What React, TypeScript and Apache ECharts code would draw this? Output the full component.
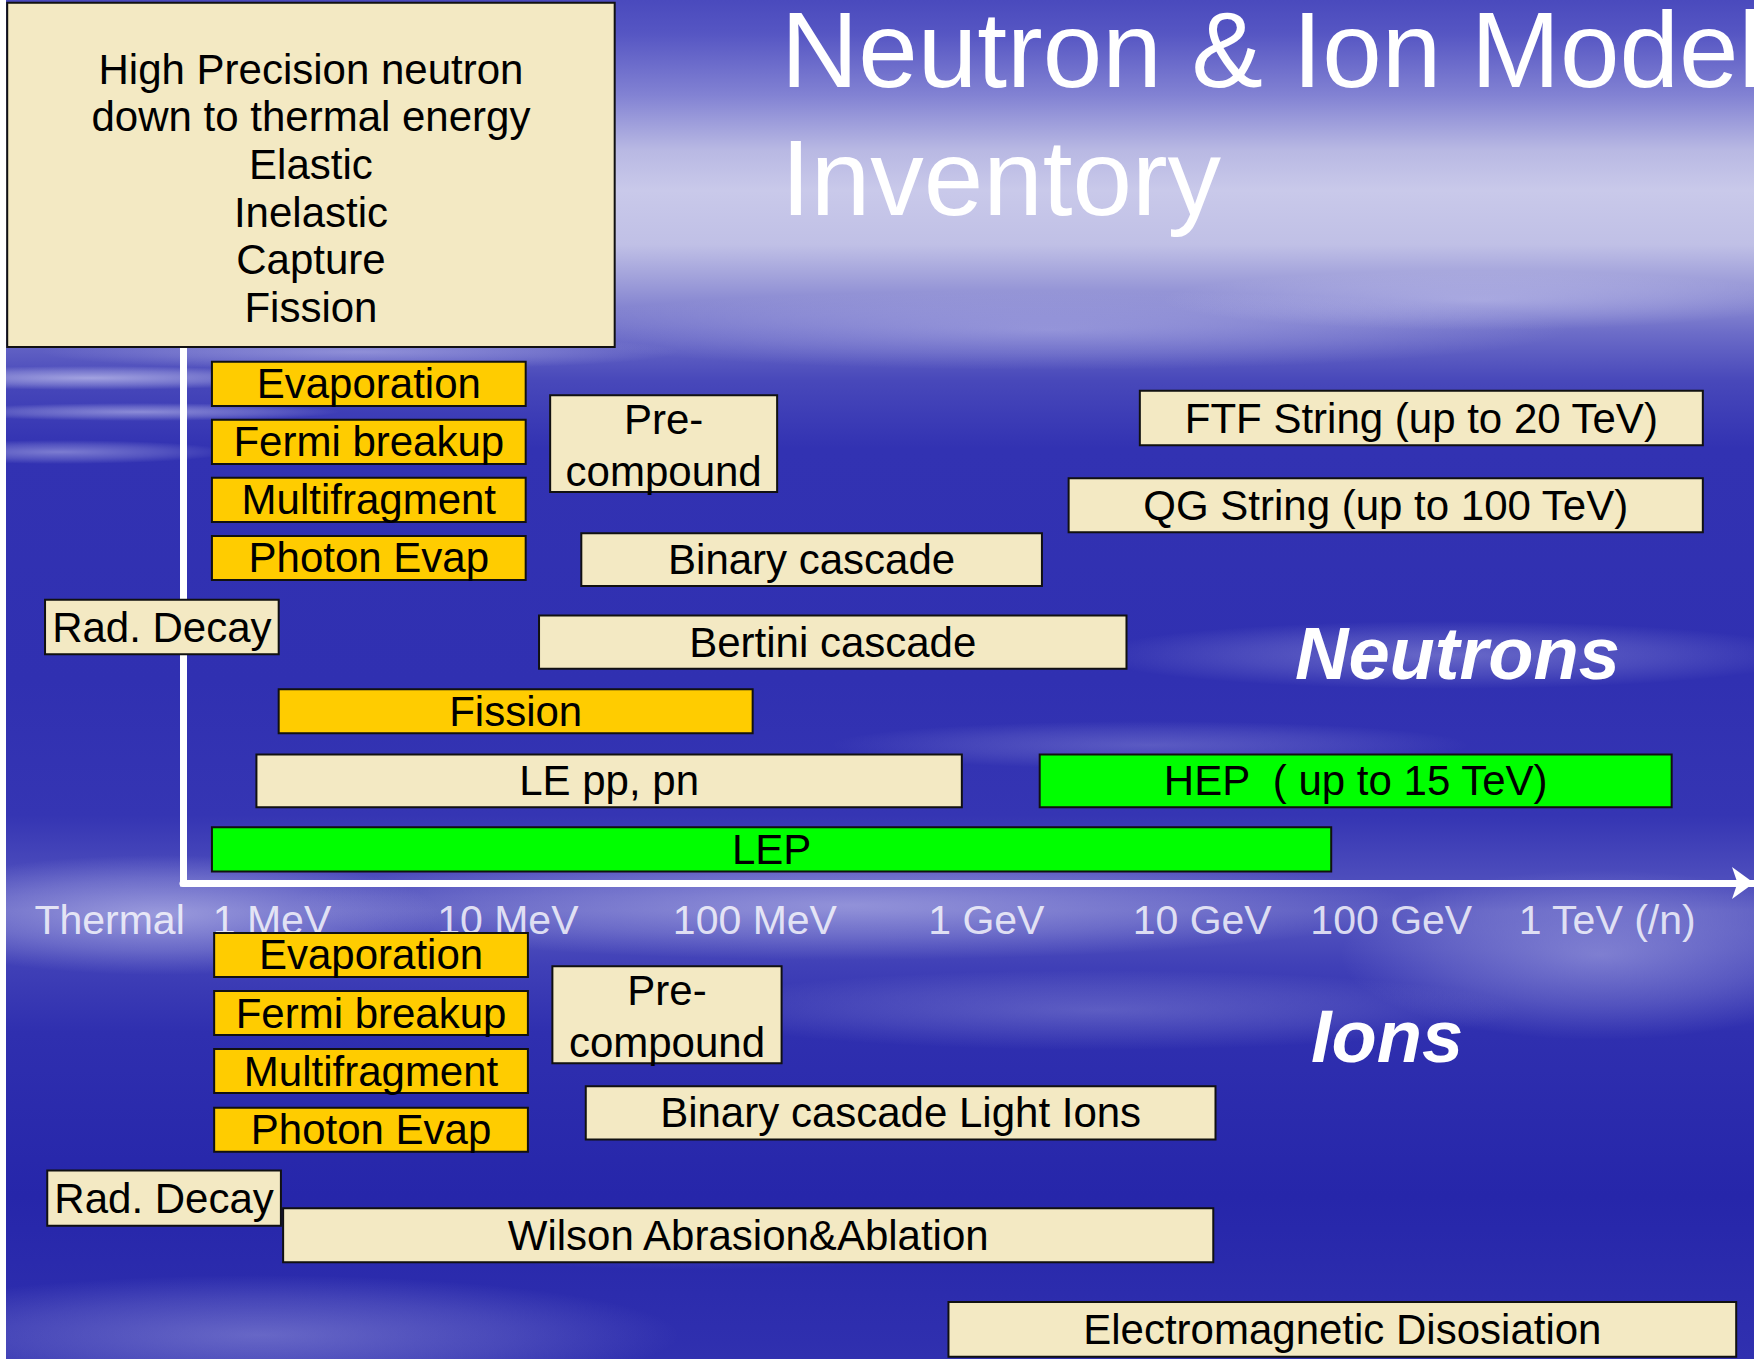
import React, { useEffect, useRef } from "react";
import * as echarts from "echarts";

// Energy axis in decades: log10(E / eV) on a schematic slide scale
const energyTickLabels = ["Thermal", "1 MeV", "10 MeV", "100 MeV", "1 GeV", "10 GeV", "100 GeV", "1 TeV (/n)"];
const energyTickPositions = [5.27, 6.0, 7.06, 8.17, 9.21, 10.18, 11.03, 12.0];
const tickLabelRow = 9.24;

// High precision neutron box
const hpModels = ["High Precision neutron\ndown to thermal energy\nElastic\nInelastic\nCapture\nFission"];
const hpFrom = [4.81];
const hpTo = [7.54];
const hpRow = [-3.6];
const hpSpan = [5.93];
const hpKinds = ["hp"];

// Neutron models
const neutronModels = [
  "Evaporation", "Fermi breakup", "Multifragment", "Photon Evap", "Pre-\ncompound",
  "FTF String (up to 20 TeV)", "QG String (up to 100 TeV)", "Binary cascade", "Rad. Decay",
  "Bertini cascade", "Fission", "LE pp, pn", "HEP  ( up to 15 TeV)", "LEP",
];
const neutronFrom = [5.73, 5.73, 5.73, 5.73, 7.25, 9.9, 9.58, 7.39, 4.98, 7.2, 6.03, 5.93, 9.45, 5.73];
const neutronTo = [7.14, 7.14, 7.14, 7.14, 8.27, 12.43, 12.43, 9.46, 6.03, 9.84, 8.16, 9.1, 12.29, 10.76];
const neutronRow = [0, 1, 2, 3, 1.03, 0.59, 2.09, 3.03, 4.19, 4.45, 5.64, 6.84, 6.84, 8.02];
const neutronSpan = [0.76, 0.76, 0.76, 0.76, 1.67, 0.94, 0.93, 0.91, 0.94, 0.92, 0.76, 0.91, 0.91, 0.76];
const neutronKinds = ["deex", "deex", "deex", "deex", "model", "model", "model", "model", "model", "model", "deex", "model", "param", "param"];

// Ion models
const ionModels = [
  "Evaporation", "Fermi breakup", "Multifragment", "Photon Evap", "Pre-\ncompound",
  "Binary cascade Light Ions", "Rad. Decay", "Wilson Abrasion&Ablation", "Electromagnetic Disosiation",
];
const ionFrom = [5.74, 5.74, 5.74, 5.74, 7.26, 7.41, 4.99, 6.05, 9.04];
const ionTo = [7.15, 7.15, 7.15, 7.15, 8.29, 10.24, 6.04, 10.23, 12.58];
const ionRow = [9.84, 10.84, 11.84, 12.85, 10.87, 12.56, 14.03, 14.67, 16.29];
const ionSpan = [0.76, 0.76, 0.76, 0.76, 1.67, 0.92, 0.95, 0.93, 0.94];
const ionKinds = ["deex", "deex", "deex", "deex", "model", "model", "model", "model", "model"];

const FONT = '"Liberation Sans", Arial, Helvetica, sans-serif';
const kindFill: Record<string, string> = {
  hp: "#F3E9C3",
  deex: "#FFCC00",
  model: "#F3E9C3",
  param: "#00FF00",
};

function makeBoxSeries(name: string, labels: string[], from: number[], to: number[], rows: number[], spans: number[], kinds: string[]) {
  return {
    type: "custom",
    name,
    clip: false,
    z: 3,
    silent: true,
    data: labels.map((_, i) => [from[i], to[i], rows[i], spans[i]]),
    encode: { x: [0, 1], y: 2 },
    renderItem: (params: any, api: any) => {
      const i = params.dataIndex;
      const p0 = api.coord([api.value(0), api.value(2)]);
      const p1 = api.coord([api.value(1), api.value(2)]);
      const h = api.size([0, api.value(3)])[1];
      const kind = kinds[i];
      const text = labels[i];
      const lines = text.split("\n").length;
      let lineHeight = 46;
      let dy = 0;
      if (kind === "hp") {
        lineHeight = 47.7;
        dy = 13.5;
      } else if (lines > 1) {
        lineHeight = 52;
        dy = 2;
      }
      return {
        type: "group",
        children: [
          {
            type: "rect",
            shape: { x: p0[0], y: p0[1] - h / 2, width: p1[0] - p0[0], height: h },
            style: { fill: kindFill[kind], stroke: "#111", lineWidth: 2 },
          },
          {
            type: "text",
            x: (p0[0] + p1[0]) / 2,
            y: p0[1] + dy,
            style: {
              text,
              fill: "#000",
              fontSize: 42,
              fontFamily: FONT,
              align: "center",
              verticalAlign: "middle",
              lineHeight,
            },
          },
        ],
      };
    },
  };
}

function radial(alpha: number) {
  return {
    type: "radial",
    x: 0.5,
    y: 0.5,
    r: 0.5,
    colorStops: [
      { offset: 0, color: `rgba(235,235,255,${alpha})` },
      { offset: 0.6, color: `rgba(235,235,255,${alpha * 0.45})` },
      { offset: 1, color: "rgba(235,235,255,0)" },
    ],
  };
}

const clouds: number[][] = [
  [90, 378, 220, 12, 0.55],
  [140, 412, 200, 9, 0.45],
  [60, 452, 170, 12, 0.4],
  [360, 352, 320, 18, 0.35],
  [1050, 330, 520, 40, 0.3],
  [1480, 300, 320, 30, 0.3],
  [1450, 655, 360, 34, 0.3],
  [1150, 745, 320, 24, 0.22],
  [850, 905, 560, 55, 0.4],
  [160, 915, 280, 60, 0.45],
  [1600, 955, 260, 85, 0.35],
  [1100, 1010, 420, 40, 0.22],
  [260, 1335, 420, 60, 0.3],
  [700, 1240, 300, 30, 0.15],
];

function buildOption() {
  const graphics: any[] = [
    {
      type: "rect",
      z: -100,
      shape: { x: 0, y: 0, width: 1754, height: 1359 },
      style: {
        fill: new echarts.graphic.LinearGradient(0, 0, 0, 1, [
          { offset: 0, color: "#4a4abd" },
          { offset: 0.025, color: "#5656c3" },
          { offset: 0.07, color: "#8282d3" },
          { offset: 0.11, color: "#b8b8e3" },
          { offset: 0.14, color: "#c9c9ea" },
          { offset: 0.18, color: "#c0c0e6" },
          { offset: 0.21, color: "#9a9ad8" },
          { offset: 0.245, color: "#6c6cc8" },
          { offset: 0.28, color: "#4848ba" },
          { offset: 0.33, color: "#3232b2" },
          { offset: 0.5, color: "#3030b1" },
          { offset: 0.6, color: "#3535b3" },
          { offset: 0.64, color: "#4a4abb" },
          { offset: 0.67, color: "#5858c0" },
          { offset: 0.71, color: "#4040b7" },
          { offset: 0.76, color: "#2f2faf" },
          { offset: 0.88, color: "#2626aa" },
          { offset: 1, color: "#3030af" },
        ]),
      },
    },
    ...clouds.map((c) => ({
      type: "circle",
      z: -90,
      silent: true,
      x: c[0],
      y: c[1],
      scaleX: c[2] / 100,
      scaleY: c[3] / 100,
      shape: { cx: 0, cy: 0, r: 100 },
      style: { fill: radial(c[4]) },
    })),
    {
      type: "rect",
      z: -80,
      shape: { x: 0, y: 0, width: 6, height: 1359 },
      style: { fill: "#ffffff" },
    },
  ];

  return {
    animation: false,
    title: [
      {
        text: "Neutron & Ion Model\nInventory",
        left: 781,
        top: -14,
        padding: 0,
        textStyle: { color: "#ffffff", fontSize: 107, fontFamily: FONT, fontWeight: "normal", lineHeight: 128 },
      },
      {
        text: "Neutrons",
        left: 1295,
        top: 616,
        padding: 0,
        textStyle: { color: "#ffffff", fontSize: 74, fontFamily: FONT, fontWeight: "bold", fontStyle: "italic", lineHeight: 74 },
      },
      {
        text: "Ions",
        left: 1311,
        top: 999,
        padding: 0,
        textStyle: { color: "#ffffff", fontSize: 74, fontFamily: FONT, fontWeight: "bold", fontStyle: "italic", lineHeight: 74 },
      },
    ],
    graphic: graphics,
    grid: { left: 183, right: 0, top: 349, bottom: 476, containLabel: false, outerBoundsMode: "none" },
    xAxis: {
      type: "value",
      min: 5.6,
      max: 12.66,
      axisLine: {
        show: true,
        onZero: false,
        symbol: ["none", "arrow"],
        symbolSize: [24, 22],
        lineStyle: { color: "#ffffff", width: 7 },
      },
      axisTick: { show: false },
      axisLabel: { show: false },
      splitLine: { show: false },
    },
    yAxis: {
      type: "value",
      inverse: true,
      min: -0.6,
      max: 8.6,
      axisLine: { show: true, onZero: false, lineStyle: { color: "#ffffff", width: 7, cap: "square" } },
      axisTick: { show: false },
      axisLabel: { show: false },
      splitLine: { show: false },
    },
    series: [
      {
        type: "scatter",
        name: "energy",
        clip: false,
        silent: true,
        z: 1,
        symbolSize: 1,
        itemStyle: { color: "rgba(0,0,0,0)" },
        data: energyTickPositions.map((p) => [p, tickLabelRow]),
        label: {
          show: true,
          position: "inside",
          formatter: (p: any) => energyTickLabels[p.dataIndex],
          color: "#ffffff",
          fontSize: 41,
          fontFamily: FONT,
        },
      },
      makeBoxSeries("High precision", hpModels, hpFrom, hpTo, hpRow, hpSpan, hpKinds),
      makeBoxSeries("Neutrons", neutronModels, neutronFrom, neutronTo, neutronRow, neutronSpan, neutronKinds),
      makeBoxSeries("Ions", ionModels, ionFrom, ionTo, ionRow, ionSpan, ionKinds),
    ],
  };
}

export default function App() {
  const ref = useRef<HTMLDivElement>(null);
  useEffect(() => {
    document.body.style.margin = "0";
    document.body.style.overflow = "hidden";
    const chart = echarts.init(ref.current as HTMLDivElement, null, { renderer: "svg", width: 1754, height: 1359 });
    chart.setOption(buildOption() as any);
    return () => chart.dispose();
  }, []);
  return <div ref={ref} style={{ width: 1754, height: 1359 }} />;
}
